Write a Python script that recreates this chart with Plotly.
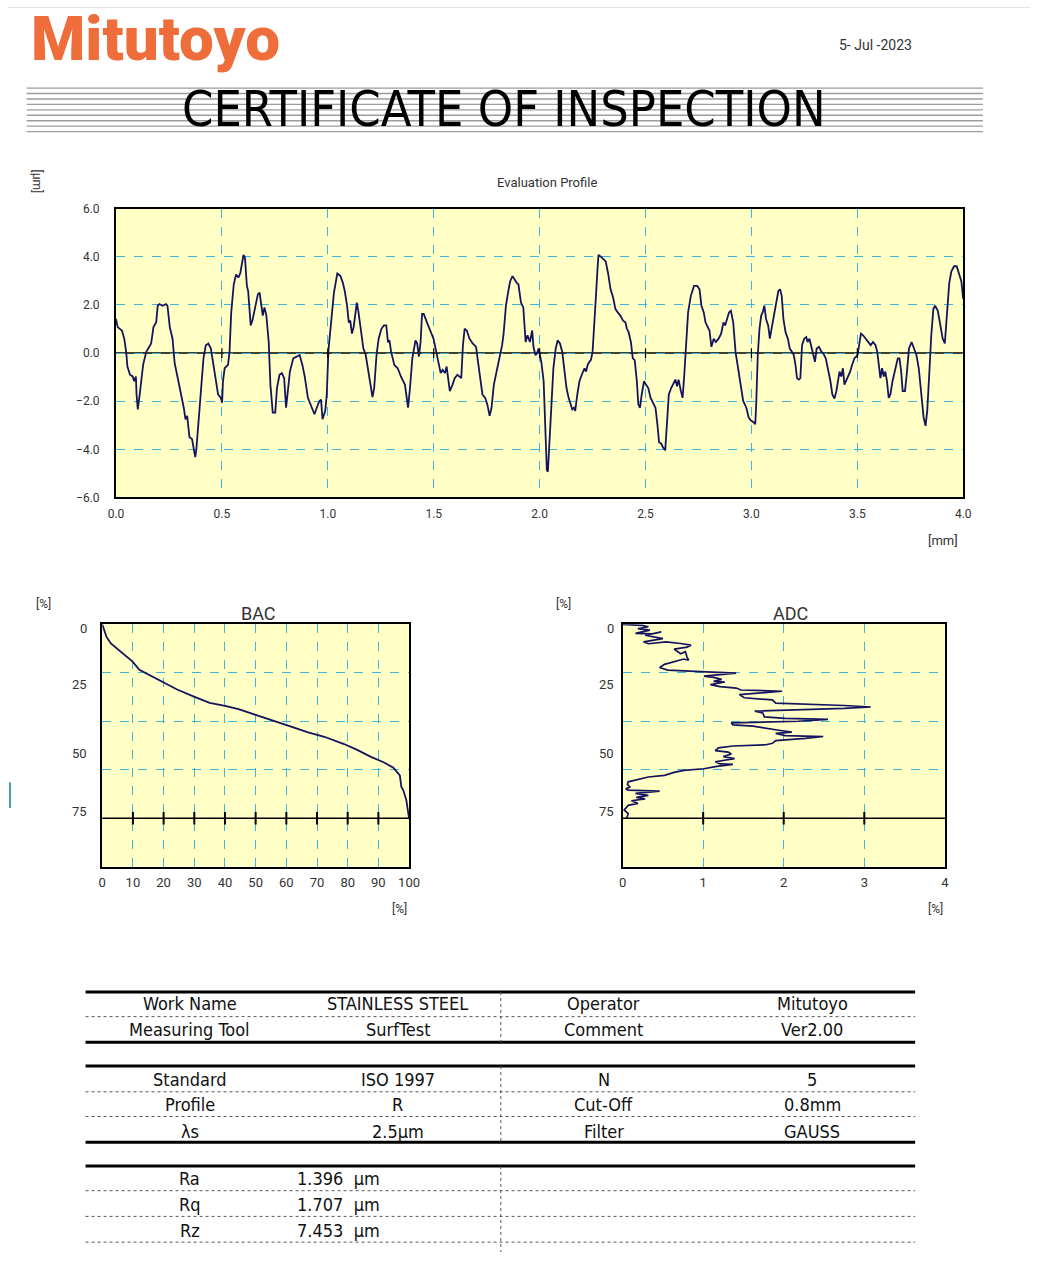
import plotly.graph_objects as go

# ---------------------------------------------------------------------------
# Evaluation profile: position along the trace [mm] and profile height [µm]
# ---------------------------------------------------------------------------
profile_x = [
    0.000, 0.008, 0.028, 0.039, 0.048, 0.054, 0.066, 0.079, 0.086, 0.094,
    0.097, 0.103, 0.112, 0.120, 0.128, 0.143, 0.159, 0.166, 0.177, 0.190,
    0.197, 0.205, 0.220, 0.236, 0.243, 0.254, 0.267, 0.277, 0.290, 0.305,
    0.320, 0.328, 0.336, 0.347, 0.359, 0.374, 0.379, 0.390, 0.402, 0.413,
    0.424, 0.436, 0.448, 0.459, 0.470, 0.482, 0.495, 0.501, 0.505, 0.513,
    0.529, 0.536, 0.544, 0.556, 0.567, 0.578, 0.587, 0.595, 0.602, 0.609,
    0.618, 0.624, 0.636, 0.644, 0.652, 0.663, 0.670, 0.678, 0.686, 0.693,
    0.701, 0.710, 0.721, 0.729, 0.740, 0.752, 0.760, 0.772, 0.783, 0.794,
    0.803, 0.809, 0.821, 0.837, 0.852, 0.867, 0.880, 0.891, 0.906, 0.921,
    0.937, 0.948, 0.960, 0.968, 0.975, 0.988, 0.995, 1.003, 1.014, 1.029,
    1.045, 1.060, 1.071, 1.080, 1.091, 1.099, 1.106, 1.114, 1.122, 1.129,
    1.137, 1.145, 1.157, 1.168, 1.179, 1.191, 1.203, 1.211, 1.219, 1.230,
    1.240, 1.253, 1.265, 1.276, 1.284, 1.291, 1.299, 1.314, 1.330, 1.345,
    1.364, 1.373, 1.379, 1.388, 1.399, 1.414, 1.422, 1.430, 1.438, 1.445,
    1.453, 1.468, 1.484, 1.499, 1.512, 1.522, 1.533, 1.542, 1.553, 1.561,
    1.569, 1.576, 1.589, 1.599, 1.612, 1.622, 1.630, 1.638, 1.646, 1.656,
    1.669, 1.684, 1.700, 1.707, 1.718, 1.730, 1.743, 1.753, 1.764, 1.773,
    1.784, 1.800, 1.810, 1.823, 1.830, 1.841, 1.851, 1.861, 1.872, 1.881,
    1.892, 1.900, 1.912, 1.923, 1.934, 1.943, 1.954, 1.965, 1.971, 1.980,
    1.988, 1.995, 2.000, 2.008, 2.019, 2.026, 2.034, 2.039, 2.045, 2.054,
    2.065, 2.076, 2.085, 2.096, 2.107, 2.116, 2.127, 2.137, 2.147, 2.154,
    2.162, 2.168, 2.178, 2.188, 2.199, 2.212, 2.219, 2.227, 2.235, 2.242,
    2.250, 2.258, 2.266, 2.273, 2.278, 2.289, 2.301, 2.312, 2.323, 2.335,
    2.347, 2.358, 2.369, 2.381, 2.394, 2.405, 2.412, 2.420, 2.431, 2.440,
    2.449, 2.459, 2.466, 2.474, 2.482, 2.493, 2.502, 2.513, 2.524, 2.536,
    2.547, 2.556, 2.564, 2.575, 2.582, 2.593, 2.601, 2.610, 2.621, 2.632,
    2.641, 2.649, 2.656, 2.667, 2.675, 2.683, 2.690, 2.701, 2.714, 2.729,
    2.744, 2.755, 2.764, 2.775, 2.783, 2.795, 2.802, 2.811, 2.822, 2.832,
    2.845, 2.857, 2.868, 2.876, 2.894, 2.903, 2.914, 2.925, 2.937, 2.950,
    2.961, 2.976, 2.987, 2.999, 3.012, 3.018, 3.022, 3.030, 3.038, 3.046,
    3.053, 3.061, 3.069, 3.079, 3.087, 3.095, 3.107, 3.118, 3.127, 3.135,
    3.143, 3.151, 3.161, 3.172, 3.181, 3.192, 3.200, 3.208, 3.215, 3.223,
    3.231, 3.239, 3.249, 3.259, 3.265, 3.274, 3.285, 3.293, 3.300, 3.308,
    3.319, 3.331, 3.339, 3.351, 3.362, 3.373, 3.382, 3.392, 3.401, 3.409,
    3.416, 3.424, 3.432, 3.439, 3.447, 3.455, 3.466, 3.475, 3.486, 3.501,
    3.509, 3.517, 3.527, 3.540, 3.552, 3.563, 3.574, 3.586, 3.594, 3.602,
    3.609, 3.617, 3.625, 3.632, 3.640, 3.648, 3.656, 3.666, 3.679, 3.691,
    3.699, 3.707, 3.714, 3.725, 3.733, 3.744, 3.756, 3.768, 3.779, 3.790,
    3.802, 3.813, 3.822, 3.830, 3.841, 3.849, 3.859, 3.867, 3.880, 3.890,
    3.903, 3.913, 3.923, 3.934, 3.944, 3.957, 3.969, 3.980, 3.991, 4.000,
]
profile_y = [
    1.42, 1.08, 0.94, 0.60, 0.05, -0.56, -0.90, -0.97, -1.17, -0.97,
    -1.72, -2.34, -1.72, -1.17, -0.49, 0.05, 0.33, 0.40, 1.08, 1.28,
    1.97, 2.04, 1.97, 2.04, 1.97, 1.08, 0.60, -0.42, -0.97, -1.58,
    -2.27, -2.75, -2.61, -3.50, -3.57, -4.32, -4.04, -2.81, -1.58, -0.22,
    0.33, 0.40, 0.19, -0.49, -1.10, -1.72, -1.86, -2.06, -1.17, -0.63,
    -0.49, 0.05, 1.69, 2.86, 3.27, 3.14, 3.33, 3.74, 4.08, 3.95,
    2.79, 2.58, 1.15, 1.35, 1.69, 2.04, 2.45, 2.51, 1.97, 1.56,
    1.90, 1.56, 0.46, -1.31, -2.47, -2.47, -1.45, -0.90, -0.83, -1.04,
    -2.27, -1.72, -0.77, -0.22, -0.15, -0.08, -0.49, -0.97, -1.86, -2.20,
    -2.54, -2.27, -2.00, -1.93, -2.75, -2.40, -1.72, 0.12, 1.28, 2.51,
    3.31, 3.20, 2.92, 2.58, 1.97, 1.28, 1.35, 0.81, 1.08, 1.69,
    2.10, 1.69, 1.01, 0.19, -0.08, -0.77, -1.45, -1.83, -1.45, -0.08,
    0.60, 1.01, 1.15, 1.15, 0.46, 0.53, 0.05, -0.49, -0.63, -0.97,
    -1.31, -1.86, -2.27, -1.45, -0.22, 0.53, 0.40, -0.15, 0.46, 1.63,
    1.63, 1.28, 0.94, 0.60, 0.05, -0.36, -0.83, -0.70, -0.83, -0.56,
    -1.04, -1.58, -1.31, -1.04, -0.90, -0.97, -1.04, 0.33, 1.01, 0.94,
    0.60, 0.40, 0.26, -0.22, -0.90, -1.72, -1.86, -2.13, -2.61, -2.27,
    -1.31, -0.63, -0.08, 0.33, 0.81, 1.97, 2.51, 2.99, 3.20, 3.06,
    2.92, 2.86, 2.10, 1.90, 0.46, 0.74, 0.46, 0.94, 0.26, -0.08,
    -0.01, 0.19, -0.08, -0.36, -1.17, -3.09, -4.86, -4.93, -3.91, -1.99,
    -0.63, 0.19, 0.53, 0.40, 0.05, -0.63, -1.45, -1.86, -2.13, -2.34,
    -2.27, -2.40, -1.72, -1.17, -0.90, -0.63, -0.77, -0.49, -0.36, -0.29,
    0.05, 1.01, 2.38, 3.47, 4.08, 4.01, 3.88, 3.81, 3.33, 2.65,
    2.31, 1.83, 1.69, 1.56, 1.35, 1.28, 1.01, 0.87, 0.46, -0.22,
    -0.29, -1.17, -2.13, -2.27, -1.72, -1.17, -1.31, -1.45, -1.86, -2.06,
    -2.27, -2.95, -3.70, -3.77, -3.91, -4.04, -2.81, -1.72, -1.45, -1.24,
    -1.10, -1.38, -1.10, -1.58, -1.86, -0.90, 0.33, 1.69, 2.38, 2.79,
    2.79, 2.65, 1.97, 1.69, 1.28, 1.08, 0.94, 0.26, 0.60, 0.46,
    0.60, 0.81, 1.28, 1.15, 1.69, 1.76, 1.28, 0.05, -0.63, -1.45,
    -1.99, -2.27, -2.68, -2.81, -2.88, -2.95, -2.27, -0.08, 1.01, 1.56,
    1.69, 1.97, 1.42, 1.15, 0.60, 1.01, 1.56, 2.10, 2.58, 2.65,
    2.38, 1.42, 0.87, 0.60, 0.19, 0.05, -0.08, -0.49, -1.04, -1.10,
    -1.04, 0.33, 0.60, 0.67, 0.46, 0.60, 0.19, -0.08, -0.36, 0.19,
    0.26, 0.05, -0.01, -0.22, -0.63, -1.17, -1.72, -1.89, -1.58, -1.04,
    -0.77, -0.97, -0.63, -1.31, -1.17, -0.97, -0.77, -0.49, -0.22, -0.08,
    0.46, 0.81, 0.74, 0.60, 0.46, 0.33, 0.46, 0.33, 0.05, -0.63,
    -1.04, -0.63, -0.97, -0.77, -1.17, -1.86, -1.72, -1.17, -0.63, -0.22,
    -0.22, -0.77, -1.58, -1.58, -0.90, 0.19, 0.46, 0.19, -0.08, -0.63,
    -1.72, -2.68, -3.02, -2.40, -0.63, 0.74, 1.83, 1.97, 1.76, 1.28,
    0.60, 0.40, 1.56, 2.92, 3.40, 3.61, 3.61, 3.33, 2.99, 2.24,
]

# ---------------------------------------------------------------------------
# Bearing area curve: bearing ratio [%] against depth [%]
# ---------------------------------------------------------------------------
bac_ratio = [0.0, 0.3, 0.6, 1.4, 2.8, 4.6, 7.3, 9.9, 12.1, 14.7, 17.9, 21.2,
             24.4, 29.7, 35.0, 40.4, 44.7, 50.0, 56.4, 61.8, 67.1, 72.4,
             78.8, 83.1, 87.4, 91.7, 94.9, 97.0, 97.5, 98.1, 99.1, 99.7, 100.0]
bac_depth = [0.0, 1.1, 2.4, 5.2, 7.9, 9.9, 12.7, 15.4, 18.8, 20.5, 22.9, 24.9,
             26.9, 29.7, 32.4, 33.7, 35.1, 37.4, 39.9, 42.3, 44.6, 46.4,
             49.4, 51.8, 54.6, 56.9, 59.2, 62.3, 67.1, 68.4, 72.5, 76.6, 80.0]

# ---------------------------------------------------------------------------
# Amplitude distribution curve: density [%] against depth [%]
# ---------------------------------------------------------------------------
adc_density = [
    0.00, 0.07, 0.24, 0.32, 0.19, 0.34, 0.16, 0.37, 0.48, 0.28,
    0.50, 0.26, 0.32, 0.54, 0.72, 0.85, 0.80, 0.64, 0.72, 0.78,
    0.80, 0.82, 0.76, 0.64, 0.52, 0.46, 0.56, 0.97, 1.41, 1.01,
    1.13, 1.23, 1.13, 1.27, 1.09, 1.21, 1.41, 1.47, 1.98, 1.45,
    1.51, 1.86, 1.90, 2.75, 3.08, 2.75, 1.64, 1.74, 1.76, 2.02,
    2.55, 2.18, 1.35, 1.37, 1.62, 1.94, 2.10, 1.90, 2.02, 2.49,
    2.27, 1.90, 1.86, 1.78, 1.37, 1.19, 1.15, 1.31, 1.35, 1.25,
    1.39, 1.15, 1.21, 1.37, 1.17, 1.01, 0.76, 0.64, 0.52, 0.32,
    0.16, 0.07, 0.06, 0.09, 0.04, 0.07, 0.46, 0.16, 0.32, 0.17,
    0.28, 0.11, 0.19, 0.07, 0.02, 0.07, 0.05,
]
adc_depth = [
    0.0, 0.1, 0.4, 1.0, 1.8, 2.4, 3.7, 3.9, 3.1, 4.5,
    5.9, 7.2, 8.0, 7.2, 7.9, 8.6, 9.4, 10.2, 12.1, 11.3,
    13.5, 14.8, 14.3, 15.4, 16.5, 17.8, 18.9, 19.5, 20.1, 21.4,
    21.9, 22.7, 23.5, 23.8, 24.9, 25.7, 26.3, 27.1, 27.6, 29.0,
    30.3, 31.2, 32.5, 33.5, 34.1, 34.7, 35.8, 36.6, 38.2, 38.8,
    39.2, 40.0, 40.7, 41.5, 42.0, 43.7, 44.5, 45.0, 45.9, 46.3,
    47.1, 48.0, 49.1, 49.7, 50.2, 51.0, 52.1, 52.7, 53.5, 54.6,
    55.4, 56.7, 57.6, 57.8, 58.6, 59.6, 60.3, 61.1, 62.3, 63.0,
    64.1, 65.0, 66.0, 67.1, 67.9, 68.4, 68.8, 69.8, 70.6, 71.4,
    72.0, 72.8, 73.9, 74.7, 76.6, 78.2, 80.0,
]

# Axis ticks and labels
profile_xticks = [0.0, 0.5, 1.0, 1.5, 2.0, 2.5, 3.0, 3.5, 4.0]
profile_yticks = [-6.0, -4.0, -2.0, 0.0, 2.0, 4.0, 6.0]
bac_xticks = [0, 10, 20, 30, 40, 50, 60, 70, 80, 90, 100]
adc_xticks = [0, 1, 2, 3, 4]
depth_grid = [20, 40, 60, 80]
depth_ref = 80
depth_labels = ["0", "25", "50", "75", "100"]
depth_label_pos = [1.8, 24.9, 53.5, 77.3, 103.1]

# Certificate table contents
table_block1 = [["Work Name", "STAINLESS STEEL", "Operator", "Mitutoyo"],
                ["Measuring Tool", "SurfTest", "Comment", "Ver2.00"]]
table_block2 = [["Standard", "ISO 1997", "N", "5"],
                ["Profile", "R", "Cut-Off", "0.8mm"],
                ["λs", "2.5µm", "Filter", "GAUSS"]]
result_names = ["Ra", "Rq", "Rz"]
result_values = [1.396, 1.707, 7.453]
report_date = "5- Jul -2023"

# ---------------------------------------------------------------------------
# Page geometry: the page body keeps its 8 px margin, so the figure itself is
# 16 px smaller than the window and page positions are shifted by the margin.
PAGE_W, PAGE_H, BODY_MARGIN = 1057, 1275, 8
W, H = PAGE_W - 2 * BODY_MARGIN, PAGE_H - 2 * BODY_MARGIN


def px(x):
    return (x - BODY_MARGIN) / W


def py(y):
    return 1 - (y - BODY_MARGIN) / H


GRID = "#3cb8d6"
LINE = "#14145e"
FONT = "Roboto, 'Liberation Sans', Arial, sans-serif"
NARROW = "'Liberation Sans Narrow', 'Arial Narrow', 'DejaVu Sans Condensed', sans-serif"
LOGO = "Roboto, 'Liberation Sans', sans-serif"
TICKFONT = dict(family=FONT, size=12, color="#333333")
SMALLCHART_FONT = dict(family=FONT, size=13, color="#333333")


def frame(**kw):
    d = dict(showline=True, linecolor="black", linewidth=2, mirror=True,
             ticks="", showgrid=True, gridcolor=GRID, griddash="dash",
             gridwidth=1, zeroline=False, tickfont=TICKFONT)
    d.update(kw)
    return d


fig = go.Figure()

# Evaluation profile
fig.add_trace(go.Scatter(x=profile_x, y=profile_y, mode="lines",
                         line=dict(color=LINE, width=1.8),
                         xaxis="x", yaxis="y", hoverinfo="skip"))
fig.add_trace(go.Scatter(x=profile_xticks[1:-1], y=[0] * (len(profile_xticks) - 2),
                         mode="markers", xaxis="x", yaxis="y",
                         marker=dict(symbol="line-ns", size=7,
                                     line=dict(color="black", width=1.2)),
                         hoverinfo="skip"))

# BAC
fig.add_trace(go.Scatter(x=bac_ratio, y=bac_depth, mode="lines",
                         line=dict(color=LINE, width=1.8),
                         xaxis="x2", yaxis="y2", hoverinfo="skip"))
fig.add_trace(go.Scatter(x=bac_xticks[1:-1], y=[depth_ref] * (len(bac_xticks) - 2),
                         mode="markers", xaxis="x2", yaxis="y2",
                         marker=dict(symbol="line-ns", size=9,
                                     line=dict(color="black", width=2)),
                         hoverinfo="skip"))

# ADC
fig.add_trace(go.Scatter(x=adc_density, y=adc_depth, mode="lines",
                         line=dict(color=LINE, width=1.7),
                         xaxis="x3", yaxis="y3", hoverinfo="skip"))
fig.add_trace(go.Scatter(x=adc_xticks[1:-1], y=[depth_ref] * (len(adc_xticks) - 2),
                         mode="markers", xaxis="x3", yaxis="y3",
                         marker=dict(symbol="line-ns", size=9,
                                     line=dict(color="black", width=2)),
                         hoverinfo="skip"))

shapes = []
annotations = []

# Reference depth line on BAC and ADC
for xa, ya in (("x2", "y2"), ("x3", "y3")):
    shapes.append(dict(type="line", xref=f"{xa} domain", yref=ya, x0=0, x1=1,
                       y0=depth_ref, y1=depth_ref,
                       line=dict(color="black", width=1.5), layer="above"))

# Profile zero line
shapes.append(dict(type="line", xref="x domain", yref="y", x0=0, x1=1, y0=0, y1=0,
                   line=dict(color="black", width=1.5), layer="below"))

# Depth tick labels for BAC and ADC
for right_edge, ya in ((90, "y2"), (627, "y3")):
    for lab, pos in zip(depth_labels, depth_label_pos):
        annotations.append(dict(text=lab, xref="paper", yref=ya, x=px(right_edge),
                                y=pos, xanchor="right", yanchor="middle",
                                showarrow=False, font=SMALLCHART_FONT))

# Page frame line and title rules
shapes.append(dict(type="line", xref="paper", yref="paper", x0=0, x1=1,
                   y0=py(8.5), y1=py(8.5), line=dict(color="#e4e4e4", width=1)))
shapes.append(dict(type="line", xref="paper", yref="paper", x0=px(10), x1=px(10),
                   y0=py(792), y1=py(818), line=dict(color="#3fa5a0", width=2)))
for i in range(9):
    yy = 90 + 5.5 * i
    shapes.append(dict(type="line", xref="paper", yref="paper", x0=px(27), x1=px(1001),
                       y0=py(yy), y1=py(yy), line=dict(color="#9c9c9c", width=1.4)))

# Header
annotations.append(dict(text="Mitutoyo", xref="paper", yref="paper",
                        x=px(29), y=py(40), xanchor="left", yanchor="middle",
                        showarrow=False,
                        font=dict(family=LOGO, size=62, weight=900, color="#ee6d3b")))
annotations.append(dict(text=report_date, xref="paper", yref="paper",
                        x=px(892), y=py(46), xanchor="center", yanchor="middle",
                        showarrow=False, font=dict(family=FONT, size=14, color="#333")))
annotations.append(dict(text="CERTIFICATE OF INSPECTION", xref="paper", yref="paper",
                        x=px(513), y=py(111), xanchor="center", yanchor="middle",
                        showarrow=False, font=dict(family=NARROW, size=50, color="black")))

# Chart captions
captions = [
    ("Evaluation Profile", 557, 185, 13, 0),
    ("[mm]", 960, 548, 13, 0),
    ("[µm]", 38, 185, 12, 90),
    ("[%]", 44, 612, 12, 0),
    ("[%]", 574, 612, 12, 0),
    ("[%]", 407, 920, 12, 0),
    ("[%]", 953, 920, 12, 0),
    ("BAC", 263, 621, 18, 0),
    ("ADC", 805, 621, 18, 0),
]
for txt, x, y, size, ang in captions:
    annotations.append(dict(text=txt, xref="paper", yref="paper", x=px(x), y=py(y),
                            xanchor="center", yanchor="middle", showarrow=False,
                            textangle=ang,
                            font=dict(family=FONT, size=size, color="#333")))

# Certificate table
TL, TR, TV = 87, 932, 510
for yy in (1004, 1055, 1079, 1156, 1180):
    shapes.append(dict(type="line", xref="paper", yref="paper", x0=px(TL), x1=px(TR),
                       y0=py(yy), y1=py(yy), line=dict(color="black", width=3)))
for yy in (1029, 1105, 1130, 1205, 1231, 1257):
    shapes.append(dict(type="line", xref="paper", yref="paper", x0=px(TL), x1=px(TR),
                       y0=py(yy), y1=py(yy),
                       line=dict(color="#555555", width=1, dash="dot")))
for y0, y1 in ((1004, 1055), (1079, 1156), (1180, 1267)):
    shapes.append(dict(type="line", xref="paper", yref="paper", x0=px(TV), x1=px(TV),
                       y0=py(y0), y1=py(y1),
                       line=dict(color="#555555", width=1, dash="dot")))

col_x = [193, 405, 615, 827]
TFONT = dict(family=NARROW, size=18, color="#111")
for rows, ys in ((table_block1, (1016, 1042)), (table_block2, (1093, 1118, 1145))):
    for row, yy in zip(rows, ys):
        for txt, cx in zip(row, col_x):
            annotations.append(dict(text=txt, xref="paper", yref="paper", x=px(cx),
                                    y=py(yy), xanchor="center", yanchor="middle",
                                    showarrow=False, font=TFONT))
for name, val, yy in zip(result_names, result_values, (1193, 1219, 1245)):
    annotations.append(dict(text=name, xref="paper", yref="paper", x=px(193), y=py(yy),
                            xanchor="center", yanchor="middle", showarrow=False,
                            font=TFONT))
    annotations.append(dict(text=f"{val:.3f}  µm", xref="paper", yref="paper",
                            x=px(300), y=py(yy), xanchor="left", yanchor="middle",
                            showarrow=False, font=TFONT))

fig.update_layout(
    width=W, height=H, margin=dict(l=0, r=0, t=0, b=0),
    paper_bgcolor="white", plot_bgcolor="#ffffc6", showlegend=False,
    xaxis=frame(domain=[px(118), px(981)], range=[0, 4], tickvals=profile_xticks,
                tickformat=".1f", ticklabelstandoff=4, anchor="y"),
    yaxis=frame(domain=[py(504), py(212)], range=[-6, 6], tickvals=profile_yticks,
                tickformat=".1f", ticklabelstandoff=12, anchor="x"),
    xaxis2=frame(domain=[px(104), px(416.5)], range=[0, 100], tickvals=bac_xticks,
                 ticklabelstandoff=3, tickfont=SMALLCHART_FONT, anchor="y2"),
    yaxis2=frame(domain=[py(877.3), py(632.3)], range=[100, 0], tickvals=depth_grid,
                 showticklabels=False, anchor="x2"),
    xaxis3=frame(domain=[px(634), px(962.3)], range=[0, 4], tickvals=adc_xticks,
                 ticklabelstandoff=3, tickfont=SMALLCHART_FONT, anchor="y3"),
    yaxis3=frame(domain=[py(877.3), py(632.3)], range=[100, 0], tickvals=depth_grid,
                 showticklabels=False, anchor="x3"),
    shapes=shapes, annotations=annotations,
)

fig.write_html("out.html")
